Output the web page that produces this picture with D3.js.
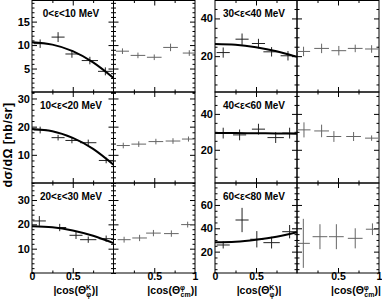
<!DOCTYPE html>
<html><head><meta charset="utf-8">
<script src="https://cdn.jsdelivr.net/npm/d3@7"></script>
<style>body{margin:0;background:#fff}svg{display:block}text{font-family:"Liberation Sans",Arial,Helvetica,sans-serif;font-weight:bold;fill:#000}</style>
</head><body><svg id="c" width="382" height="299"></svg>
<script>
// ---- data ----
const panelLabels = ["0<ε<10 MeV","10<ε<20 MeV","20<ε<30 MeV","30<ε<40 MeV","40<ε<60 MeV","60<ε<80 MeV"];
const yDomains = [[0,19.5],[0,32.3],[0,37],[1,49.5],[1.5,52.2],[1.7,78.8]];
const yMajorTicks = [[5,10,15],[10,20,30],[10,20,30],[20,40],[20,40],[20,40,60]];
const yMinorStep = [1,2,2,5,5,5];
const xMajorTicks = [0.5];
const xMinorTicks = [0.25,0.75];
const xTickLabelsLeft = ["0","0.5"];
const xTickLabelsRight = ["0.5","1"];

// |cos(Theta_phi^K)| sub-panel
const kX = [[0.10,0.32,0.49,0.71,0.90],[0.10,0.32,0.49,0.69,0.91],[0.09,0.34,0.54,0.69,0.91],
            [0.10,0.33,0.53,0.69,0.89],[0.10,0.30,0.53,0.74,0.91],[0.10,0.33,0.51,0.69,0.91]];
const kXErr = [0.08,0.08,0.08,0.1,0.09];
const kVal = [[10.3,11.7,8.1,6.7,4.4],[18.8,16.1,15.1,14.3,8.0],[21.4,18.7,15.5,13.7,14.1],
              [21.9,29.0,26.7,22.3,20.2],[29.3,28.3,31.5,26.8,29.3],[25.7,47.1,30.6,27.7,37.1]];
const kErr = [[0.9,1.05,0.8,0.8,0.85],[1.2,1.0,1.0,1.1,1.0],[2.0,1.5,1.5,1.3,1.3],
              [2.7,3.0,2.5,2.5,2.5],[3.0,3.0,3.0,3.0,3.0],[3.0,10.4,7.0,5.0,5.7]];
// |cos(Theta_cm^phi)| sub-panel
const cX = [[0.11,0.30,0.50,0.70,0.93],[0.12,0.31,0.52,0.73,0.92],[0.13,0.32,0.49,0.71,0.91],
            [0.08,0.30,0.51,0.71,0.91],[0.085,0.30,0.45,0.69,0.91],[0.077,0.28,0.48,0.71,0.92]];
const cXErr = [0.08,0.09,0.09,0.09,0.08];
const cVal = [[8.7,7.8,7.4,9.5,8.3],[13.3,13.8,14.7,14.9,15.6],[13.7,14.4,16.4,16.2,19.9],
              [22.5,24.1,22.9,24.1,23.8],[31.1,30.5,27.4,27.4,26.5],[27.1,32.8,32.8,31.4,39.2]];
const cErr = [[0.6,0.6,0.6,0.8,0.6],[1.0,1.0,1.0,1.0,0.9],[1.2,1.3,1.3,1.3,1.2],
              [2.5,2.5,2.5,2.0,2.0],[4.2,3.5,3.0,2.5,1.5],[21,10.7,10.7,8.6,5.0]];
// fit curves (left sub-panel)
const fitX = [0,0.25,0.5,0.75,1];
const fitVal = [[10.6,10.1,8.7,6.3,3.0],[19.2,18.4,16.0,12.1,6.5],[19.2,18.8,17.5,15.3,12.3],
                [26.4,26.0,24.7,22.6,19.6],[29.3,29.3,29.2,29.1,29.0],[28.0,28.5,30.2,32.8,36.6]];
const yTitle = "dσ/dΩ [nb/sr]";

// ---- drawing ----
const svg = d3.select("#c");
svg.append("rect").attr("width",382).attr("height",299).attr("fill","#fff");
const colX = [32, 215], colW = [81.5, 82];
const rowTop = [0.5, 92, 183], rowBot = [92, 183, 273];
const FONT = '"Liberation Sans",Arial,sans-serif';

function drawErr(g, xs, xScale, vals, errs, xerr, yScale, color){
  xs.forEach((u,j)=>{
    const cx = xScale(u), cy = yScale(vals[j]);
    const x1 = Math.max(xScale.range()[0], xScale(u - xerr[j])), x2 = Math.min(xScale.range()[1], xScale(u + xerr[j]));
    g.append("line").attr("x1",x1).attr("x2",x2).attr("y1",cy).attr("y2",cy).attr("stroke",color).attr("stroke-width",1);
    const ya = Math.max(yScale.range()[1], yScale(vals[j]+errs[j])), yb = Math.min(yScale.range()[0], yScale(vals[j]-errs[j]));
    g.append("line").attr("x1",cx).attr("x2",cx).attr("y1",ya).attr("y2",yb).attr("stroke",color).attr("stroke-width",1);
  });
}

for (let i=0;i<6;i++){
  const col = i<3?0:1, row = i%3;
  const x0 = colX[col], w = colW[col];
  const y = d3.scaleLinear().domain(yDomains[i]).range([rowBot[row], rowTop[row]]);
  const xa = d3.scaleLinear().domain([0,1]).range([x0, x0+w]);
  const xb = d3.scaleLinear().domain([0,1]).range([x0+w, x0+2*w]);
  const g = svg.append("g");
  const minor = d3.range(Math.ceil(yDomains[i][0]/yMinorStep[i])*yMinorStep[i], yDomains[i][1], yMinorStep[i])
                 .filter(v=>!yMajorTicks[i].includes(v));

  [xa, xb].forEach(xs=>{
    const [l,r] = xs.range();
    [[l,1],[r,-1]].forEach(([px,dir])=>{
      const axMaj = (dir>0? d3.axisRight(y): d3.axisLeft(y)).tickValues(yMajorTicks[i]).tickSize(5).tickFormat("");
      const axMin = (dir>0? d3.axisRight(y): d3.axisLeft(y)).tickValues(minor).tickSize(2.5).tickFormat("");
      [axMaj, axMin].forEach(ax=>{
        const a = g.append("g").attr("transform",`translate(${px},0)`).call(ax);
        a.select(".domain").remove();
        a.selectAll("line").attr("stroke","#000");
      });
    });
    [[rowBot[row],-1],[rowTop[row],1]].forEach(([py,dir])=>{
      const axMaj = (dir>0? d3.axisBottom(xs): d3.axisTop(xs)).tickValues(xMajorTicks).tickSize(5).tickFormat("");
      const axMin = (dir>0? d3.axisBottom(xs): d3.axisTop(xs)).tickValues(xMinorTicks).tickSize(2.5).tickFormat("");
      [axMaj, axMin].forEach(ax=>{
        const a = g.append("g").attr("transform",`translate(0,${py})`).call(ax);
        a.select(".domain").remove();
        a.selectAll("line").attr("stroke","#000");
      });
    });
    g.append("rect").attr("x",l).attr("y",rowTop[row]).attr("width",r-l).attr("height",rowBot[row]-rowTop[row])
      .attr("fill","none").attr("stroke","#000").attr("stroke-width",1);
  });

  const yl = g.append("g").attr("transform",`translate(${x0-1},0)`)
    .call(d3.axisLeft(y).tickValues(yMajorTicks[i]).tickSize(0).tickPadding(1));
  yl.select(".domain").remove();
  yl.selectAll("text").attr("font-size",11).style("font-family",FONT).style("font-weight","bold");

  drawErr(g, kX[i], xa, kVal[i], kErr[i], kXErr, y, "#222");
  drawErr(g, cX[i], xb, cVal[i], cErr[i], cXErr, y, "#666");

  const line = d3.line().x((d,j)=>xa(fitX[j])).y(d=>y(d)).curve(d3.curveNatural);
  g.append("path").attr("d", line(fitVal[i])).attr("fill","none").attr("stroke","#000").attr("stroke-width",2);

  g.append("text").attr("x", x0+39).attr("y", rowTop[row]+16.5).attr("text-anchor","middle")
    .attr("font-size",10).text(panelLabels[i]);

  if (row===2){
    const xl1 = g.append("g").attr("transform",`translate(0,${rowBot[row]})`)
      .call(d3.axisBottom(xa).tickValues([0,0.5]).tickSize(0).tickPadding(0).tickFormat((d,j)=>xTickLabelsLeft[j]));
    const xl2 = g.append("g").attr("transform",`translate(0,${rowBot[row]})`)
      .call(d3.axisBottom(xb).tickValues([0.5,1]).tickSize(0).tickPadding(0).tickFormat((d,j)=>xTickLabelsRight[j]));
    [xl1,xl2].forEach(a=>{a.select(".domain").remove();
      a.selectAll("text").attr("font-size",10.5).style("font-family",FONT).style("font-weight","bold");});
    const t1 = g.append("text").attr("x", xa(0.5)+3).attr("y",294).attr("text-anchor","middle").attr("font-size",10.5);
    t1.append("tspan").text("|cos(Θ");
    t1.append("tspan").attr("font-size",7).attr("dy",-4).text("K");
    t1.append("tspan").attr("font-size",7).attr("dx",-5).attr("dy",7).text("φ");
    t1.append("tspan").attr("dy",-3).attr("dx",0.5).text(")|");
    const t2 = g.append("text").attr("x", xb(0.5)+18).attr("y",294).attr("text-anchor","middle").attr("font-size",10.5);
    t2.append("tspan").text("|cos(Θ");
    t2.append("tspan").attr("font-size",7).attr("dy",-4).text("φ");
    t2.append("tspan").attr("font-size",7).attr("dx",-4.5).attr("dy",7).text("cm");
    t2.append("tspan").attr("dy",-3).text(")|");
  }
}
svg.append("text").attr("transform","translate(12,145) rotate(-90)").attr("text-anchor","middle")
  .attr("font-size",12.5).attr("letter-spacing",0.4).text(yTitle);
</script></body></html>
